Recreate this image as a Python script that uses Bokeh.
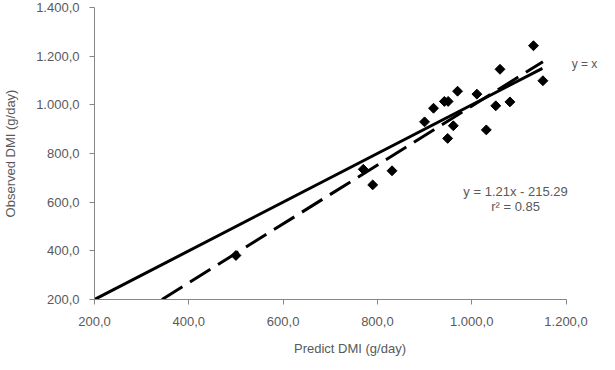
from math import pi
from bokeh.plotting import figure
from bokeh.models import Range1d, Label, FixedTicker
from bokeh.embed import file_html
from bokeh.resources import INLINE

# Data
predicted = [1131, 1060, 1151, 970, 1011, 942, 950, 919, 1051, 1081, 900, 961, 1031, 949, 770, 831, 790, 500]
observed = [1243, 1146, 1099, 1056, 1044, 1014, 1014, 986, 996, 1012, 930, 914, 897, 862, 735, 729, 671, 381]

identity_x = [200, 1150]
slope = 1.21
intercept = -215.29
r2 = 0.85

x_ticks = [200, 400, 600, 800, 1000, 1200]
x_tick_labels = ["200,0", "400,0", "600,0", "800,0", "1.000,0", "1.200,0"]
y_ticks = [200, 400, 600, 800, 1000, 1200, 1400]
y_tick_labels = ["200,0", "400,0", "600,0", "800,0", "1.000,0", "1.200,0", "1.400,0"]

FONT = "Liberation Sans"
TXT = "#595959"
AX = "#868686"

W, H = 605, 362
LEFT, TOP = 90, 7
BOTTOM = H - TOP - 292
FRAME_W = W - LEFT
PX_PER_UNIT = 475.2 / 1000.0
x_end = 200 + FRAME_W / PX_PER_UNIT

p = figure(width=W, height=H, output_backend="svg", toolbar_location=None,
           x_range=Range1d(200, x_end), y_range=Range1d(200, 1400),
           min_border_left=LEFT, min_border_right=0, min_border_top=TOP, min_border_bottom=BOTTOM)
p.grid.grid_line_color = None
p.outline_line_color = None
p.background_fill_color = "white"

for ax, ticks, labels in ((p.xaxis[0], x_ticks, x_tick_labels), (p.yaxis[0], y_ticks, y_tick_labels)):
    ax.ticker = FixedTicker(ticks=ticks)
    ax.major_label_overrides = {t: l for t, l in zip(ticks, labels)}
    ax.axis_line_color = AX
    ax.major_tick_line_color = AX
    ax.major_tick_out = 5
    ax.major_tick_in = 0
    ax.minor_tick_line_color = None
    ax.major_label_text_font = FONT
    ax.major_label_text_font_size = "13px"
    ax.major_label_text_color = TXT
    ax.axis_label_text_font = FONT
    ax.axis_label_text_font_size = "13px"
    ax.axis_label_text_font_style = "normal"
    ax.axis_label_text_color = TXT

p.xaxis.bounds = (200, 1200)
p.xaxis.axis_label = "Predict DMI (g/day)"
p.yaxis.axis_label = "Observed DMI (g/day)"
p.xaxis.major_label_standoff = 12
p.yaxis.major_label_standoff = 10
p.xaxis.axis_label_standoff = 12
p.yaxis.axis_label_standoff = 15

# y = x line
p.line(identity_x, identity_x, line_color="black", line_width=3)

# trendline
x0 = (200 - intercept) / slope
x1 = max(predicted)
p.line([x0, x1], [slope * x0 + intercept, slope * x1 + intercept],
       line_color="black", line_width=3, line_dash="24 9")

p.scatter(predicted, observed, marker="square", size=7, angle=pi / 4,
          fill_color="black", line_color="black")

p.add_layout(Label(x=1212, y=1167, text="y = x", text_font=FONT, text_font_size="12px",
                   text_color=TXT, text_baseline="middle", text_align="left"))
p.add_layout(Label(x=1093, y=644, text="y = %.2fx - %.2f" % (slope, -intercept), text_font=FONT,
                   text_font_size="13px", text_color=TXT, text_baseline="middle", text_align="center"))
p.add_layout(Label(x=1093, y=582, text="r\u00b2 = %.2f" % r2, text_font=FONT,
                   text_font_size="13px", text_color=TXT, text_baseline="middle", text_align="center"))

open("out.html", "w").write(file_html(p, INLINE))
